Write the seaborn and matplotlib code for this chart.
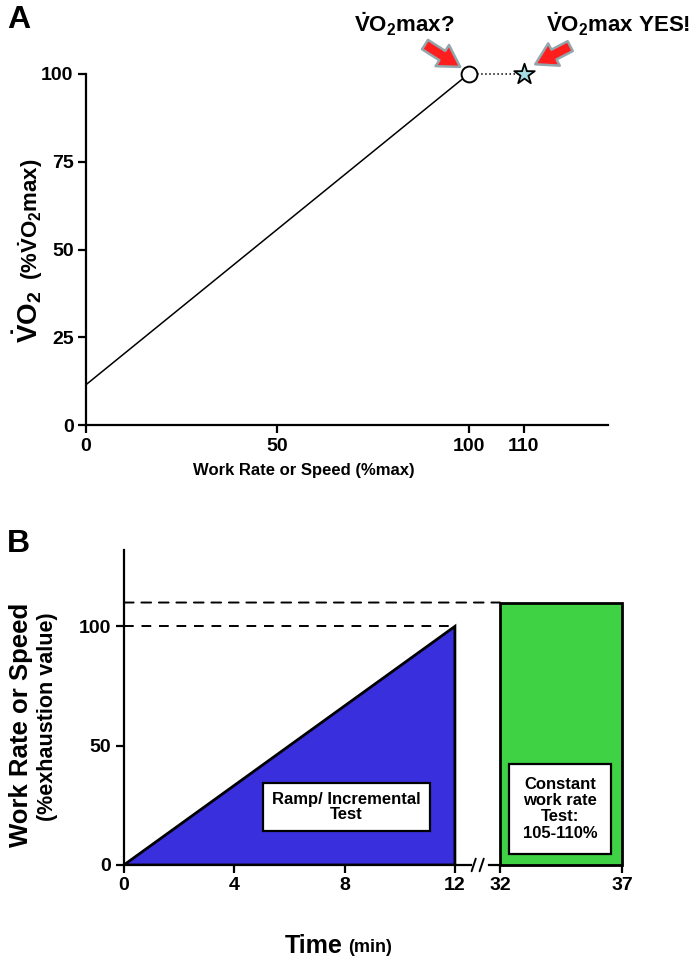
"""VO2max verification figure: (A) VO2 vs work rate, (B) ramp vs constant work rate test."""
import matplotlib
matplotlib.use("Agg")
import matplotlib.pyplot as plt
from matplotlib.patches import ConnectionPatch
import numpy as np
import pandas as pd
import seaborn as sns

# ---- data -------------------------------------------------------------
work_rate = [0, 100]            # % max
vo2 = [11.5, 100]               # % VO2max
plateau_x = [100, 110]
plateau_y = [100, 100]
a_xticks = [0, 50, 100, 110]
a_yticks = [0, 25, 50, 75, 100]

ramp_time = [0, 12, 12]         # min
ramp_level = [0, 100, 0]        # % exhaustion value
const_start, const_end = 32, 37
const_level = 110
b_left_xticks = [0, 4, 8, 12]
b_right_xticks = [32, 37]
b_yticks = [0, 50, 100]

sns.set_theme(style="ticks")
plt.rcParams["font.family"] = ["Liberation Sans", "DejaVu Sans"]
plt.rcParams.update({
    "font.weight": "bold",
    "text.color": "black",
    "axes.labelcolor": "black",
    "xtick.color": "black",
    "ytick.color": "black",
    "mathtext.fontset": "custom",
    "mathtext.rm": "Liberation Sans:bold",
    "mathtext.it": "Liberation Sans:bold",
    "mathtext.bf": "Liberation Sans:bold",
    "mathtext.default": "regular",
})

VO2 = r"$\dot{V}O_2$"
TICK_FS = 14

# the schematic x axis of panel A is stretched past 100 %
A_KNOTS = [-100, 0, 100, 110, 200]
A_POS = [-100, 0, 100, 114.4, 114.4 + 90 * 1.49]


def a_forward(x):
    return np.interp(x, A_KNOTS, A_POS)


def a_inverse(p):
    return np.interp(p, A_POS, A_KNOTS)


def style_axis(ax):
    for s in ("top", "right"):
        ax.spines[s].set_visible(False)
    for s in ("left", "bottom"):
        ax.spines[s].set_linewidth(1.6)
        ax.spines[s].set_color("black")
    ax.tick_params(direction="out", length=5.5, width=1.6, colors="black",
                   labelsize=TICK_FS, pad=3.5)
    for lab in ax.get_xticklabels() + ax.get_yticklabels():
        lab.set_fontweight("bold")


fig = plt.figure(figsize=(6.96, 9.66), dpi=100)

# ---- panel A ------------------------------------------------------------
ax_a = fig.add_axes([0.1236, 0.56, 0.75, 0.3634])
ax_a.set_xscale("function", functions=(a_forward, a_inverse))
df_a = pd.DataFrame({"work": work_rate, "vo2": vo2})
sns.lineplot(data=df_a, x="work", y="vo2", ax=ax_a, color="black", lw=1.1)
ax_a.plot(plateau_x, plateau_y, ls=":", color="black", lw=1.1, clip_on=False)
ax_a.scatter(plateau_x[:1], plateau_y[:1], s=130, facecolor="white",
             edgecolor="black", lw=1.4, zorder=5, clip_on=False)
ax_a.scatter(plateau_x[1:], plateau_y[1:], s=240, marker="*", facecolor="#a9dde6",
             edgecolor="black", lw=1.3, zorder=5, clip_on=False)
ax_a.set_xlim(0, 124.8)
ax_a.set_ylim(0, 100)
ax_a.set_xticks(a_xticks)
ax_a.set_yticks(a_yticks)
ax_a.xaxis.set_minor_locator(matplotlib.ticker.NullLocator())
style_axis(ax_a)
ax_a.set_xlabel("Work Rate or Speed (%max)", fontsize=12, fontweight="bold")
ax_a.xaxis.set_label_coords(0.418, -0.108)
ax_a.set_ylabel("")

arrow = dict(arrowstyle="simple,head_length=0.8,head_width=0.95,tail_width=0.42",
             fc="#ff1e1e", ec="#93a6ac", lw=1.8, mutation_scale=19)
ax_a.annotate("", xy=(98.4, 101.6), xytext=(88.0, 108.8), arrowprops=arrow,
              annotation_clip=False)
ax_a.annotate("", xy=(111.6, 102.4), xytext=(118.6, 108.3), arrowprops=arrow,
              annotation_clip=False)
ax_a.text(83.3, 114.3, VO2 + "max?", fontsize=16, fontweight="bold",
          ha="center", va="center", clip_on=False)
ax_a.text(126.6, 114.3, VO2 + "max YES!", fontsize=16, fontweight="bold",
          ha="center", va="center", clip_on=False)

fig.text(27 / 696, 1 - 317 / 966, VO2, rotation=90, fontsize=20, fontweight="bold",
         ha="center", va="center")
fig.text(31 / 696, 1 - 219 / 966, "(%" + VO2 + "max)", rotation=90, fontsize=16,
         fontweight="bold", ha="center", va="center")
fig.text(0.010, 1 - 20 / 966, "A", fontsize=23, fontweight="bold", ha="left", va="center")

# ---- panel B ------------------------------------------------------------
ax_l = fig.add_axes([0.178, 0.1046, 0.4986, 0.326])
ax_r = fig.add_axes([0.7026, 0.1046, 0.1911, 0.326], sharey=ax_l)

ax_l.fill(ramp_time, ramp_level, facecolor="#3a2fdc", edgecolor="black", lw=2, zorder=3)
ax_l.plot([0, ramp_time[1]], [ramp_level[1]] * 2, ls=(0, (5, 4)), color="black", lw=1.4)
ax_r.bar(const_start, const_level, width=const_end - const_start, align="edge",
         color="#3fd244", edgecolor="black", lw=2, zorder=3, clip_on=False)
dash = ConnectionPatch(xyA=(0, const_level), coordsA=ax_l.transData,
                       xyB=(const_start, const_level), coordsB=ax_r.transData,
                       ls=(0, (5, 4)), color="black", lw=1.4)
fig.add_artist(dash)

ax_l.set_xlim(0, 12.58)
ax_l.set_ylim(0, 132)
ax_l.set_xticks(b_left_xticks)
ax_l.set_yticks(b_yticks)
ax_r.set_xlim(31.55, 37)
ax_r.set_xticks(b_right_xticks)
style_axis(ax_l)
style_axis(ax_r)
ax_r.spines["left"].set_visible(False)
ax_r.tick_params(axis="y", left=False, labelleft=False)
ax_l.set_xlabel("")
ax_l.set_ylabel("")

ax_l.text(8.07, 24.3, "Ramp/ Incremental\nTest", fontsize=12, fontweight="bold",
          ha="center", va="center", zorder=6, linespacing=1.05,
          bbox=dict(boxstyle="square,pad=0.55", fc="white", ec="black", lw=1.6))
ax_r.text(34.46, 23.5, "Constant\nwork rate\nTest:\n105-110%", fontsize=12,
          fontweight="bold", ha="center", va="center", zorder=6, linespacing=1.1,
          bbox=dict(boxstyle="square,pad=0.8", fc="white", ec="black", lw=1.6))

# axis break marks
for xa in (1.008, 1.031):
    ax_l.plot([xa - 0.006, xa + 0.006], [-0.02, 0.02], transform=ax_l.transAxes,
              color="black", lw=1.4, clip_on=False)

fig.text(21 / 696, 1 - 725 / 966, "Work Rate or Speed", rotation=90, fontsize=18.5,
         fontweight="bold", ha="center", va="center")
fig.text(48 / 696, 1 - 717 / 966, "(%exhaustion value)", rotation=90, fontsize=15.5,
         fontweight="bold", ha="center", va="center")
fig.text(0.492, 1 - 946 / 966, "Time", fontsize=18, fontweight="bold",
         ha="right", va="center")
fig.text(0.500, 1 - 947 / 966, "(min)", fontsize=13, fontweight="bold",
         ha="left", va="center")
fig.text(0.010, 1 - 544 / 966, "B", fontsize=23, fontweight="bold", ha="left", va="center")

fig.savefig("out.png", dpi=100)
plt.close(fig)
